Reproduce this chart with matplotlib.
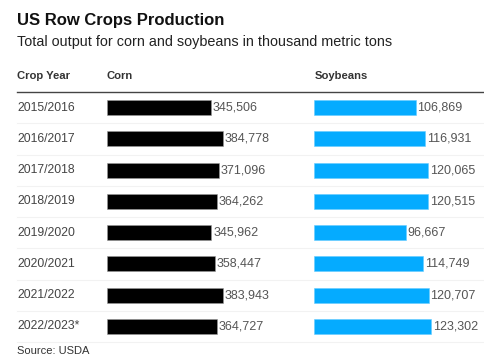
import matplotlib.pyplot as plt
import matplotlib.transforms as mtransforms

plt.rcParams['font.family'] = ['Liberation Sans', 'DejaVu Sans']

# data
years = ['2015/2016', '2016/2017', '2017/2018', '2018/2019',
         '2019/2020', '2020/2021', '2021/2022', '2022/2023*']
corn = [345506, 384778, 371096, 364262, 345962, 358447, 383943, 364727]
soybeans = [106869, 116931, 120065, 120515, 96667, 114749, 120707, 123302]

W, H = 485, 360
fig = plt.figure(figsize=(W / 100, H / 100), dpi=100)

def px_x(x):
    return x / W

def px_y(y):
    return 1 - y / H

# titles
fig.text(px_x(17), px_y(20), 'US Row Crops Production', fontsize=12.0,
         fontweight='bold', color='#111111', va='center')
fig.text(px_x(17), px_y(42), 'Total output for corn and soybeans in thousand metric tons',
         fontsize=10.4, color='#222222', va='center')

# column headers
for x, lab in [(17, 'Crop Year'), (107, 'Corn'), (315, 'Soybeans')]:
    fig.text(px_x(x), px_y(76), lab, fontsize=8.1, fontweight='bold',
             color='#333333', va='center')

top, bottom = 92, 342
ax_c = fig.add_axes([px_x(107), px_y(bottom), px_x(180), (bottom - top) / H])
ax_s = fig.add_axes([px_x(314), px_y(bottom), px_x(170), (bottom - top) / H])

n = len(years)
rows = list(range(n))

# px per unit scale
ax_c.set_xlim(0, 180 / 0.000302)
ax_s.set_xlim(0, 170 / 0.00095)

for ax, vals, col, edge in [(ax_c, corn, '#000000', '#999999'),
                            (ax_s, soybeans, '#05abff', '#66ccff')]:
    ax.barh(rows, vals, height=0.48, color=col, edgecolor=edge, linewidth=0.4)
    off = mtransforms.offset_copy(ax.transData, fig=fig, x=1.2, y=0, units='points')
    for r, v in zip(rows, vals):
        ax.text(v, r, f'{v:,}', fontsize=9.0, color='#555555', va='center',
                ha='left', transform=off)
    ax.set_ylim(n - 0.5, -0.5)
    ax.axis('off')

# year labels and row separators (figure-x, data-y)
trans = mtransforms.blended_transform_factory(fig.transFigure, ax_c.transData)
for r, y in zip(rows, years):
    ax_c.text(px_x(17), r, y, transform=trans, fontsize=8.8, color='#444444',
              va='center', ha='left')
for r in rows[:-1]:
    ax_c.plot([px_x(17), px_x(483)], [r + 0.5, r + 0.5], transform=trans,
              color='#f2f2f2', linewidth=0.8, clip_on=False)
ax_c.plot([px_x(17), px_x(483)], [-0.5, -0.5], transform=trans,
          color='#444444', linewidth=1.0, clip_on=False)
ax_c.plot([px_x(17), px_x(483)], [n - 0.5, n - 0.5], transform=trans,
          color='#f2f2f2', linewidth=0.8, clip_on=False)

fig.text(px_x(17), px_y(351), 'Source: USDA', fontsize=8.0, color='#333333', va='center')

fig.savefig('out.png', dpi=100)
